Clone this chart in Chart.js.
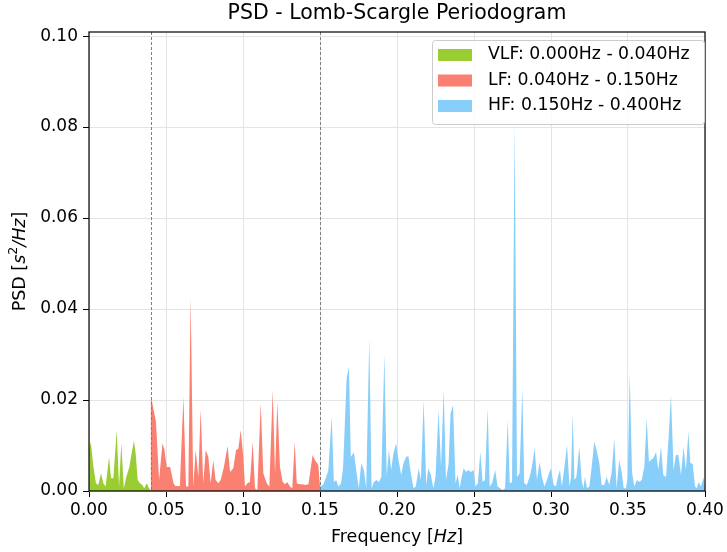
<!DOCTYPE html>
<html>
<head>
<meta charset="utf-8">
<script src="https://cdn.jsdelivr.net/npm/chart.js@4/dist/chart.umd.min.js"></script>
<style>
  body { margin: 0; background: #fff; }
  #wrap { width: 727px; height: 552px; position: relative; }
</style>
</head>
<body>
<div id="wrap"><canvas id="psd"></canvas></div>
<script>
// band limits (Hz)
const bandEdges = [0.04, 0.15];

// VLF band
const vlfFreq = [0.0000, 0.0012, 0.0026, 0.0045, 0.0060, 0.0078, 0.0093, 0.0108, 0.0130, 0.0143,
  0.0158, 0.0180, 0.0195, 0.0210, 0.0226, 0.0242, 0.0262, 0.0277, 0.0292, 0.0303,
  0.0316, 0.0331, 0.0346, 0.0359, 0.0375, 0.0390, 0.0400];
const vlfPsd = [0.0090, 0.0108, 0.0060, 0.0017, 0.0013, 0.0039, 0.0017, 0.0010, 0.0074, 0.0028,
  0.0028, 0.0133, 0.0010, 0.0105, 0.0006, 0.0031, 0.0053, 0.0083, 0.0111, 0.0083,
  0.0024, 0.0017, 0.0013, 0.0006, 0.0017, 0.0006, 0.0002];

// LF band
const lfFreq = [0.0400, 0.0407, 0.0435, 0.0455, 0.0477, 0.0490, 0.0505, 0.0527, 0.0549, 0.0560,
  0.0590, 0.0613, 0.0630, 0.0645, 0.0660, 0.0677, 0.0693, 0.0710, 0.0725, 0.0742,
  0.0758, 0.0775, 0.0790, 0.0807, 0.0822, 0.0840, 0.0855, 0.0876, 0.0900, 0.0916,
  0.0937, 0.0955, 0.0970, 0.0985, 0.1002, 0.1013, 0.1028, 0.1045, 0.1063, 0.1078,
  0.1093, 0.1115, 0.1132, 0.1154, 0.1171, 0.1193, 0.1208, 0.1223, 0.1240, 0.1258,
  0.1273, 0.1288, 0.1305, 0.1320, 0.1336, 0.1349, 0.1366, 0.1388, 0.1405, 0.1425,
  0.1452, 0.1467, 0.1489, 0.1500];
const lfPsd = [0.0200, 0.0200, 0.0152, 0.0024, 0.0105, 0.0090, 0.0053, 0.0053, 0.0017, 0.0011,
  0.0011, 0.0207, 0.0010, 0.0010, 0.0427, 0.0010, 0.0090, 0.0030, 0.0180, 0.0017,
  0.0090, 0.0075, 0.0017, 0.0068, 0.0024, 0.0017, 0.0024, 0.0053, 0.0099, 0.0042,
  0.0050, 0.0090, 0.0093, 0.0134, 0.0075, 0.0010, 0.0017, 0.0020, 0.0108, 0.0006,
  0.0002, 0.0193, 0.0039, 0.0017, 0.0010, 0.0222, 0.0039, 0.0196, 0.0053, 0.0020,
  0.0015, 0.0020, 0.0010, 0.0006, 0.0108, 0.0017, 0.0015, 0.0015, 0.0013, 0.0015,
  0.0079, 0.0068, 0.0057, 0.0010];

// HF band
const hfFreq = [0.1500, 0.1520, 0.1540, 0.1554, 0.1576, 0.1590, 0.1605, 0.1620, 0.1637, 0.1650,
  0.1673, 0.1688, 0.1700, 0.1720, 0.1737, 0.1752, 0.1768, 0.1785, 0.1800, 0.1820,
  0.1835, 0.1850, 0.1866, 0.1883, 0.1898, 0.1918, 0.1933, 0.1948, 0.1962, 0.1977,
  0.1994, 0.2010, 0.2027, 0.2042, 0.2059, 0.2074, 0.2090, 0.2107, 0.2122, 0.2141,
  0.2155, 0.2173, 0.2190, 0.2203, 0.2220, 0.2236, 0.2250, 0.2270, 0.2286, 0.2303,
  0.2318, 0.2335, 0.2348, 0.2364, 0.2380, 0.2394, 0.2407, 0.2420, 0.2433, 0.2448,
  0.2463, 0.2480, 0.2497, 0.2510, 0.2525, 0.2541, 0.2556, 0.2571, 0.2589, 0.2602,
  0.2617, 0.2638, 0.2653, 0.2670, 0.2687, 0.2702, 0.2719, 0.2732, 0.2747, 0.2764,
  0.2779, 0.2796, 0.2814, 0.2826, 0.2843, 0.2861, 0.2876, 0.2894, 0.2909, 0.2926,
  0.2941, 0.2957, 0.2974, 0.2987, 0.3000, 0.3017, 0.3032, 0.3048, 0.3058, 0.3071,
  0.3087, 0.3104, 0.3120, 0.3130, 0.3141, 0.3152, 0.3165, 0.3184, 0.3199, 0.3210,
  0.3221, 0.3234, 0.3249, 0.3264, 0.3281, 0.3296, 0.3314, 0.3329, 0.3346, 0.3361,
  0.3379, 0.3394, 0.3411, 0.3426, 0.3443, 0.3459, 0.3472, 0.3487, 0.3498, 0.3511,
  0.3526, 0.3541, 0.3558, 0.3574, 0.3589, 0.3606, 0.3621, 0.3636, 0.3649, 0.3664,
  0.3682, 0.3697, 0.3714, 0.3729, 0.3747, 0.3764, 0.3779, 0.3796, 0.3811, 0.3827,
  0.3844, 0.3861, 0.3876, 0.3892, 0.3905, 0.3920, 0.3935, 0.3946, 0.3959, 0.3974,
  0.3991, 0.4000];
const hfPsd = [0.0010, 0.0013, 0.0031, 0.0045, 0.0165, 0.0020, 0.0024, 0.0010, 0.0017, 0.0053,
  0.0248, 0.0273, 0.0075, 0.0085, 0.0042, 0.0006, 0.0061, 0.0046, 0.0006, 0.0335,
  0.0006, 0.0020, 0.0024, 0.0020, 0.0031, 0.0300, 0.0035, 0.0090, 0.0046, 0.0083,
  0.0105, 0.0068, 0.0035, 0.0061, 0.0075, 0.0077, 0.0039, 0.0006, 0.0010, 0.0050,
  0.0024, 0.0200, 0.0013, 0.0050, 0.0035, 0.0006, 0.0031, 0.0178, 0.0053, 0.0224,
  0.0024, 0.0060, 0.0171, 0.0189, 0.0017, 0.0035, 0.0006, 0.0031, 0.0050, 0.0042,
  0.0046, 0.0042, 0.0046, 0.0010, 0.0017, 0.0086, 0.0020, 0.0024, 0.0182, 0.0010,
  0.0017, 0.0046, 0.0010, 0.0006, 0.0002, 0.0006, 0.0156, 0.0017, 0.0020, 0.0810,
  0.0031, 0.0039, 0.0226, 0.0017, 0.0013, 0.0031, 0.0053, 0.0094, 0.0024, 0.0064,
  0.0031, 0.0010, 0.0024, 0.0039, 0.0050, 0.0013, 0.0010, 0.0035, 0.0046, 0.0010,
  0.0053, 0.0101, 0.0010, 0.0031, 0.0171, 0.0024, 0.0031, 0.0097, 0.0024, 0.0006,
  0.0031, 0.0006, 0.0010, 0.0053, 0.0108, 0.0090, 0.0061, 0.0013, 0.0013, 0.0031,
  0.0013, 0.0042, 0.0116, 0.0006, 0.0068, 0.0042, 0.0006, 0.0006, 0.0031, 0.0260,
  0.0042, 0.0010, 0.0024, 0.0020, 0.0024, 0.0053, 0.0160, 0.0064, 0.0068, 0.0072,
  0.0085, 0.0046, 0.0097, 0.0035, 0.0031, 0.0119, 0.0211, 0.0046, 0.0079, 0.0079,
  0.0035, 0.0097, 0.0046, 0.0130, 0.0061, 0.0060, 0.0010, 0.0006, 0.0019, 0.0010,
  0.0030, 0.0002];

const xTicks = [0, 0.05, 0.10, 0.15, 0.20, 0.25, 0.30, 0.35, 0.40];
const yTicks = [0, 0.02, 0.04, 0.06, 0.08, 0.10];

const toPoints = (f, p) => f.map((x, i) => ({ x: x, y: p[i] }));

const FONT = "'DejaVu Sans', sans-serif";

function band(label, f, p, color) {
  return {
    label: label,
    data: toPoints(f, p),
    backgroundColor: color,
    borderColor: color,
    borderWidth: 0,
    pointRadius: 0,
    tension: 0,
    fill: "origin",
  };
}

// draw a line of text made of parts with different fonts
function richText(ctx, parts, x, y) {
  let total = 0;
  parts.forEach((pt) => {
    ctx.font = pt.font;
    total += ctx.measureText(pt.t).width;
  });
  let cx = x - total / 2;
  parts.forEach((pt) => {
    ctx.font = pt.font;
    ctx.fillText(pt.t, cx, y + (pt.dy || 0));
    cx += ctx.measureText(pt.t).width;
  });
}

const decor = {
  id: "decor",
  afterDatasetsDraw(chart) {
    const ctx = chart.ctx;
    const a = chart.chartArea;
    const xs = chart.scales.x;
    ctx.save();
    // band edges
    ctx.strokeStyle = "#808080";
    ctx.lineWidth = 1;
    ctx.setLineDash([3, 2]);
    bandEdges.forEach((b) => {
      const px = Math.round(xs.getPixelForValue(b)) + 0.5;
      ctx.beginPath();
      ctx.moveTo(px, a.top);
      ctx.lineTo(px, a.bottom);
      ctx.stroke();
    });
    ctx.setLineDash([]);
    ctx.restore();
  },
  afterDraw(chart) {
    const ctx = chart.ctx;
    const a = chart.chartArea;
    ctx.save();
    // frame
    ctx.strokeStyle = "#000";
    ctx.lineWidth = 1.2;
    ctx.strokeRect(a.left, a.top, a.right - a.left, a.bottom - a.top);

    // title
    ctx.fillStyle = "#000";
    ctx.textAlign = "left";
    ctx.textBaseline = "middle";
    const cx = (a.left + a.right) / 2;
    richText(ctx, [{ t: "PSD - Lomb-Scargle Periodogram", font: "20.5px " + FONT }], cx, 14);

    // x label
    richText(ctx, [
      { t: "Frequency [", font: "17.5px " + FONT },
      { t: "Hz", font: "italic 17.5px " + FONT },
      { t: "]", font: "17.5px " + FONT },
    ], cx, 537);

    // y label
    ctx.save();
    ctx.translate(20, (a.top + a.bottom) / 2);
    ctx.rotate(-Math.PI / 2);
    richText(ctx, [
      { t: "PSD [", font: "17.5px " + FONT },
      { t: "s", font: "italic 17.5px " + FONT },
      { t: "2", font: "12.5px " + FONT, dy: -6 },
      { t: "/", font: "italic 17.5px " + FONT },
      { t: "Hz", font: "italic 17.5px " + FONT },
      { t: "]", font: "17.5px " + FONT },
    ], 0, 0);
    ctx.restore();

    // legend
    const lx = 432, ly = 40, lw = 272, lh = 84;
    ctx.fillStyle = "rgba(255,255,255,0.8)";
    ctx.strokeStyle = "#cccccc";
    ctx.lineWidth = 1;
    ctx.beginPath();
    ctx.roundRect(lx + 0.5, ly + 0.5, lw, lh, 3);
    ctx.fill();
    ctx.stroke();
    ctx.font = "17.3px " + FONT;
    ctx.textBaseline = "middle";
    chart.data.datasets.forEach((ds, i) => {
      const ry = ly + 14 + i * 25.5;
      ctx.fillStyle = ds.backgroundColor;
      ctx.fillRect(lx + 6, ry - 5, 34, 12);
      ctx.fillStyle = "#000";
      ctx.fillText(ds.label, lx + 56, ry + 1);
    });
    ctx.restore();
  },
};

new Chart(document.getElementById("psd"), {
  type: "line",
  data: {
    datasets: [
      band("VLF: 0.000Hz - 0.040Hz", vlfFreq, vlfPsd, "#9acd32"),
      band("LF: 0.040Hz - 0.150Hz", lfFreq, lfPsd, "#fa8072"),
      band("HF: 0.150Hz - 0.400Hz", hfFreq, hfPsd, "#87cefa"),
    ],
  },
  options: {
    responsive: true,
    maintainAspectRatio: false,
    animation: false,
    layout: { padding: { top: 32, right: 22, left: 0, bottom: 0 } },
    plugins: {
      legend: { display: false },
      title: { display: false },
      tooltip: { enabled: false },
    },
    scales: {
      x: {
        type: "linear",
        min: 0,
        max: 0.4,
        afterFit: (s) => { s.height = 61; },
        afterBuildTicks: (s) => { s.ticks = xTicks.map((v) => ({ value: v })); },
        ticks: {
          color: "#000",
          font: { family: FONT, size: 17 },
          padding: 3,
          maxRotation: 0,
          callback: (v) => v.toFixed(2),
        },
        grid: { color: "#e4e4e4", tickColor: "#000", tickLength: 6, tickWidth: 1 },
        border: { display: false },
      },
      y: {
        type: "linear",
        min: 0,
        max: 0.1009,
        afterFit: (s) => { s.width = 89; },
        afterBuildTicks: (s) => { s.ticks = yTicks.map((v) => ({ value: v })); },
        ticks: {
          color: "#000",
          font: { family: FONT, size: 17 },
          padding: 5,
          callback: (v) => v.toFixed(2),
        },
        grid: { color: "#e4e4e4", tickColor: "#000", tickLength: 6, tickWidth: 1 },
        border: { display: false },
      },
    },
  },
  plugins: [decor],
});
</script>
</body>
</html>
